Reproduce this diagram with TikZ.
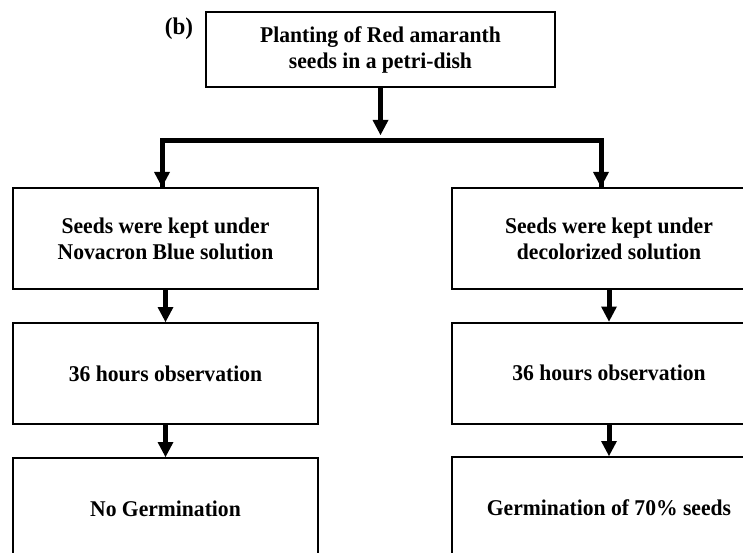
\documentclass[tikz,border=0pt]{standalone}
\usepackage{fontspec}
\setmainfont[FakeStretch=0.96]{Liberation Serif}
\usepackage{tikz}
\usetikzlibrary{arrows.meta}

\begin{document}
\begin{tikzpicture}[->,>={Triangle[width=16pt,length=15pt,line width=0pt]},
	x=1pt,y=-1pt,line width=5pt,
	box node/.style={rectangle, draw, line width=2pt, align=center,
		minimum width=305pt, minimum height=101pt,
		font=\fontsize{22.5}{26}\selectfont\bfseries}]
	
	\useasboundingbox (0,0) rectangle (743,553);
	\clip (0,0) rectangle (743,553);
	
	\node[box node, minimum width=349pt, minimum height=75pt] (1) at (380.5,49.5) {Planting of Red amaranth\\seeds in a petri-dish};
	\node[font=\fontsize{24}{26}\selectfont\bfseries] (label) at (179,29) {(b)};
	
	% left column
	\node[box node] (2) at (165.5,238.5) {Seeds were kept under\\Novacron Blue solution};
	\node[box node] (3) at (165.5,373.5) {36 hours observation};
	\node[box node] (4) at (165.5,508.5) {No Germination};
	
	% right column
	\node[box node, minimum width=314pt] (5) at (609,238.5) {Seeds were kept under\\decolorized solution};
	\node[box node, minimum width=314pt] (6) at (609,373) {36 hours observation};
	\node[box node, minimum width=314pt] (7) at (609,507.5) {Germination of 70\% seeds};
	
	\coordinate (tip) at (380.5,135);
	\coordinate (fork) at (380.5,141);
	
	\draw (1) -- (tip);
	\draw[-, line join=miter] ([xshift=-3.5pt]2.north) |- (fork);
	\draw ([xshift=-3.5pt]2.north |- fork) -- ([xshift=-3.5pt]2.north);
	\draw[-, line join=miter] ([xshift=-8pt]5.north) |- (fork);
	\draw ([xshift=-8pt]5.north |- fork) -- ([xshift=-8pt]5.north);
	
	\draw (2) -- (3);
	\draw (3) -- (4);
	\draw (5) -- (6);
	\draw (6) -- (7);
\end{tikzpicture}
\end{document}
